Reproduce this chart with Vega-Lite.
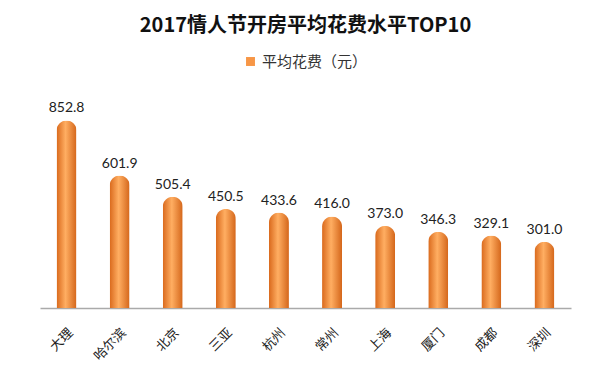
{
  "$schema": "https://vega.github.io/schema/vega-lite/v6.json",
  "autosize": {"type": "none"},
  "width": 531,
  "height": 220,
  "padding": {"left": 40, "top": 88, "right": 29, "bottom": 72},
  "background": "white",
  "config": {"view": {"stroke": null}},
  "title": {
    "text": "2017情人节开房平均花费水平TOP10",
    "font": "Noto Sans CJK SC",
    "fontSize": 20,
    "fontWeight": "bold",
    "color": "#111",
    "anchor": "middle",
    "frame": "group",
    "offset": 18
  },
  "data": {
    "values": [
      {"city": "大理", "cost": 852.8, "series": "平均花费（元）"},
      {"city": "哈尔滨", "cost": 601.9, "series": "平均花费（元）"},
      {"city": "北京", "cost": 505.4, "series": "平均花费（元）"},
      {"city": "三亚", "cost": 450.5, "series": "平均花费（元）"},
      {"city": "杭州", "cost": 433.6, "series": "平均花费（元）"},
      {"city": "常州", "cost": 416.0, "series": "平均花费（元）"},
      {"city": "上海", "cost": 373.0, "series": "平均花费（元）"},
      {"city": "厦门", "cost": 346.3, "series": "平均花费（元）"},
      {"city": "成都", "cost": 329.1, "series": "平均花费（元）"},
      {"city": "深圳", "cost": 301.0, "series": "平均花费（元）"}
    ]
  },
  "encoding": {
    "x": {
      "field": "city",
      "type": "nominal",
      "sort": null,
      "scale": {"paddingInner": 0.6, "paddingOuter": 0.3},
      "axis": {
        "title": null,
        "labelAngle": -45,
        "labelFont": "Noto Sans CJK SC",
        "labelFontSize": 13,
        "labelColor": "#222",
        "labelPadding": 18,
        "ticks": false,
        "domainColor": "#aaa",
        "domainWidth": 1.5
      }
    },
    "y": {
      "field": "cost",
      "type": "quantitative",
      "scale": {"domain": [0, 1000]},
      "axis": null
    }
  },
  "layer": [
    {
      "mark": {
        "type": "bar",
        "width": 20,
        "cornerRadiusTopLeft": 10,
        "cornerRadiusTopRight": 10,
        "fill": {
          "x1": 0, "y1": 0, "x2": 1, "y2": 0,
          "gradient": "linear",
          "stops": [
            {"offset": 0, "color": "#D9691C"},
            {"offset": 0.45, "color": "#FFAE62"},
            {"offset": 1, "color": "#D4661A"}
          ]
        }
      },
      "encoding": {
        "color": {
          "field": "series",
          "type": "nominal",
          "scale": {"range": ["#F79646"]},
          "legend": {
            "title": null,
            "orient": "none",
            "legendX": 203,
            "legendY": -34,
            "symbolType": "square",
            "symbolSize": 80,
            "labelFont": "Noto Sans CJK SC",
            "labelFontSize": 15,
            "labelColor": "#333"
          }
        }
      }
    },
    {
      "mark": {
        "type": "text",
        "dy": -12,
        "font": "Lato",
        "fontSize": 14,
        "color": "#222"
      },
      "encoding": {
        "text": {"field": "cost", "type": "quantitative", "format": ".1f"}
      }
    }
  ]
}
